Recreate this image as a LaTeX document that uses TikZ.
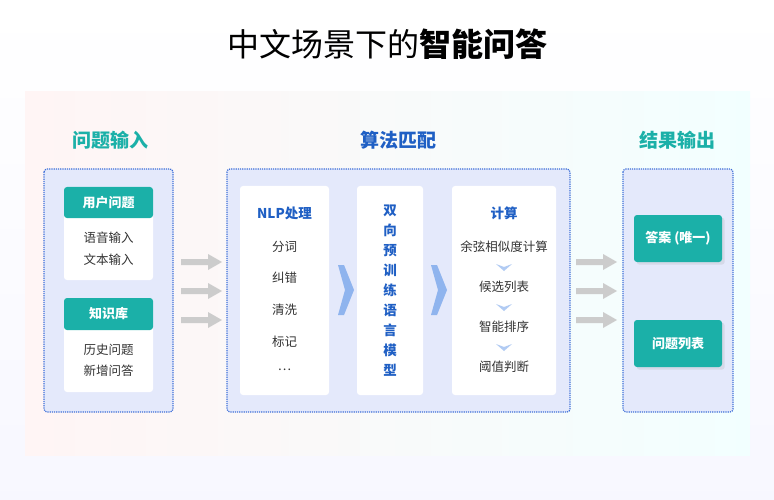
\documentclass[tikz,border=0pt]{standalone}
\usepackage{fontspec}
\setmainfont{Noto Sans CJK SC}
\usetikzlibrary{shadows}
\definecolor{teal1}{HTML}{1BB0A8}
\definecolor{blue1}{HTML}{1F5FC4}
\definecolor{dotb}{HTML}{3E6FD8}
\definecolor{inner}{HTML}{E4E9FB}
\definecolor{txt}{HTML}{333333}
\definecolor{chevc}{HTML}{8FB4EE}
\tikzset{
 dotbox/.style={draw=dotb,densely dotted,line width=1.2pt,fill=inner,rounded corners=3pt},
 whitebox/.style={fill=white,rounded corners=3pt,draw=none},
 hdr/.style={fill=teal1,rounded corners=3pt},
 item/.style={text=txt,font=\fontsize{12.5}{14}\selectfont},
 sect/.style={font=\fontsize{19}{22}\selectfont\bfseries},
 garrow/.style={fill=gray!40,draw=none},
 chev/.style={fill=chevc,draw=none},
 dchev/.style={fill=chevc!70,draw=none},
}
\begin{document}
\begin{tikzpicture}[x=1pt,y=-1pt]
\useasboundingbox (0,0) rectangle (774,500);
\shade[top color=white,bottom color=blue!3!white] (0,0) rectangle (774,500);
\shade[left color=red!4!white,right color=cyan!5!white] (25,92) rectangle (750,455);
\node (title) at (387,44) {\fontsize{32}{36}\selectfont 中文场景下的\textbf{智能问答}};
\node[sect,text=teal1] (s1) at (110,140) {问题输入};
\node[sect,text=blue1] (s2) at (398,140) {算法匹配};
\node[sect,text=teal1] (s3) at (677,140) {结果输出};
% left
\path[dotbox] (44,169) rectangle (173,412);
\path[whitebox] (64,187) rectangle (153,280);
\path[hdr] (64,187) rectangle (153,218);
\node[text=white,font=\fontsize{13}{15}\selectfont\bfseries] (h1) at (108.5,202.5) {用户问题};
\node[item] (a1) at (108.5,238) {语音输入};
\node[item] (a2) at (108.5,260) {文本输入};
\path[whitebox] (64,298) rectangle (153,392);
\path[hdr] (64,298) rectangle (153,330);
\node[text=white,font=\fontsize{13}{15}\selectfont\bfseries] (h2) at (108.5,314) {知识库};
\node[item] (b1) at (108.5,350) {历史问题};
\node[item] (b2) at (108.5,371) {新增问答};
% gray arrows
\foreach \yy in {262,291,320}{
 \fill[garrow] (181,\yy-3) -- (208,\yy-3) -- (208,\yy-8) -- (222,\yy) -- (208,\yy+8) -- (208,\yy+3) -- (181,\yy+3) -- cycle;
 \fill[garrow] (576,\yy-3) -- (603,\yy-3) -- (603,\yy-8) -- (617,\yy) -- (603,\yy+8) -- (603,\yy+3) -- (576,\yy+3) -- cycle;
}
% middle
\path[dotbox] (227,169) rectangle (570,412);
\path[whitebox] (240,186) rectangle (329,395);
\node[text=blue1,font=\fontsize{13.5}{15}\selectfont\bfseries] (n0) at (284.5,213) {NLP处理};
\node[item] (n1) at (284.5,247) {分词};
\node[item] (n2) at (284.5,278) {纠错};
\node[item] (n3) at (284.5,310) {清洗};
\node[item] (n4) at (284.5,342) {标记};
\node[item] (n5) at (284.5,370) {…};
\fill[chev] (338,265) -- (344,265) -- (354,290) -- (344,315) -- (338,315) -- (345,290) -- cycle;
\path[whitebox] (357,186) rectangle (423,395);
\node[text=blue1,font=\fontsize{13.5}{20}\selectfont\bfseries,align=center] (m) at (390,291) {双\\向\\预\\训\\练\\语\\言\\模\\型};
\fill[chev] (431,265) -- (437,265) -- (447,290) -- (437,315) -- (431,315) -- (438,290) -- cycle;
\path[whitebox] (452,186) rectangle (556,395);
\node[text=blue1,font=\fontsize{13.5}{15}\selectfont\bfseries] (c0) at (504,213) {计算};
\node[item] (c1) at (504,247) {余弦相似度计算};
\node[item] (c2) at (504,287) {候选列表};
\node[item] (c3) at (504,327) {智能排序};
\node[item] (c4) at (504,367) {阈值判断};
\foreach \yy in {264,304,344}{
 \fill[dchev] (496,\yy) -- (504,\yy+3) -- (512,\yy) -- (504,\yy+7) -- cycle;
}
% right
\path[dotbox] (623,169) rectangle (733,412);
\path[hdr,drop shadow={opacity=0.15}] (634,215) rectangle (722,262);
\node[text=white,font=\fontsize{13}{15}\selectfont\bfseries] (r1) at (678,238.5) {答案 (唯一)};
\path[hdr,drop shadow={opacity=0.15}] (634,320) rectangle (722,367);
\node[text=white,font=\fontsize{13}{15}\selectfont\bfseries] (r2) at (678,343.5) {问题列表};
\end{tikzpicture}
\end{document}
